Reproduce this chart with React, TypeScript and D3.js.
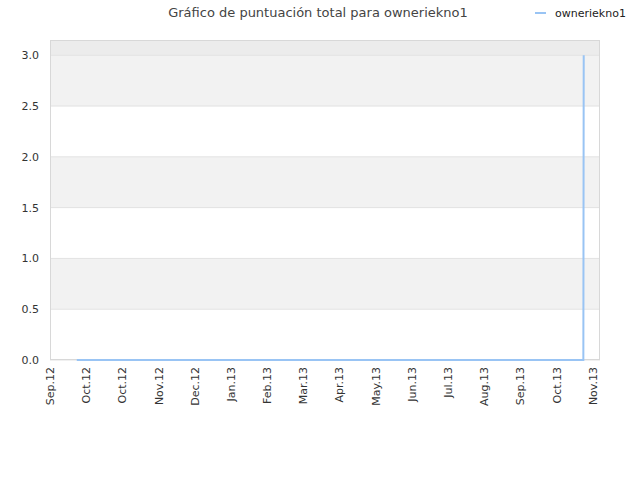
import React from 'react';
import * as d3 from 'd3';

// month tick labels along the x axis (index = position on axis)
const monthLabels = [
  'Sep.12', 'Oct.12', 'Oct.12', 'Nov.12', 'Dec.12', 'Jan.13', 'Feb.13', 'Mar.13',
  'Apr.13', 'May.13', 'Jun.13', 'Jul.13', 'Aug.13', 'Sep.13', 'Oct.13', 'Nov.13',
];

// series: positions in axis-month units, total score
const seriesPos = [0.74, 14.74, 14.75];
const seriesVal = [0, 0, 3];

const yTicks = [0, 0.5, 1, 1.5, 2, 2.5, 3];

const seriesName = 'owneriekno1';
const title = 'Gráfico de puntuación total para owneriekno1';

const W = 640;
const H = 480;
const margin = { top: 40, right: 40, bottom: 120, left: 50 };

const App: React.FC = () => {
  const x = d3.scaleLinear().domain([0, 15.2]).range([margin.left, W - margin.right]);
  const y = d3.scaleLinear().domain([0, 3.15]).range([H - margin.bottom, margin.top]);

  const pts = seriesPos.map((p, i) => ({ p, v: seriesVal[i] }));
  const line = d3.line<{ p: number; v: number }>()
    .x(d => x(d.p))
    .y(d => y(d.v));

  const font = 'DejaVu Sans, sans-serif';
  const plotTop = margin.top;
  const plotBottom = H - margin.bottom;

  return (
    <svg width={W} height={H} style={{ display: 'block', position: 'absolute', left: 0, top: 0 }}>
      <rect x={0} y={0} width={W} height={H} fill="#fff" />
      <text x={318} y={17} textAnchor="middle" fontFamily={font} fontSize={13} fill="#444">{title}</text>

      {/* legend */}
      <line x1={535} x2={546} y1={13} y2={13} stroke="#99c4f4" strokeWidth={2} />
      <text x={555} y={17} fontFamily={font} fontSize={11} fill="#222">{seriesName}</text>

      {/* top strip above last tick */}
      <rect x={margin.left} y={plotTop} width={W - margin.right - margin.left}
        height={y(3) - plotTop} fill="#ececec" />
      {/* alternating bands */}
      {yTicks.slice(0, -1).map((t, i) => (
        <rect key={'b' + i} x={margin.left} y={y(t + 0.5)}
          width={W - margin.right - margin.left} height={y(t) - y(t + 0.5)}
          fill={i % 2 === 1 ? '#f2f2f2' : '#fff'} />
      ))}
      {yTicks.map(t => (
        <line key={'g' + t} x1={margin.left} x2={W - margin.right} y1={y(t)} y2={y(t)}
          stroke="#e2e2e2" strokeWidth={1} />
      ))}
      <rect x={margin.left + 0.5} y={plotTop + 0.5} width={W - margin.right - margin.left - 1}
        height={plotBottom - plotTop - 1} fill="none" stroke="#d8d8d8" strokeWidth={1} />

      {yTicks.map(t => (
        <text key={'yt' + t} x={39} y={y(t) + 4} textAnchor="end" fontFamily={font}
          fontSize={11} fill="#333">{t.toFixed(1)}</text>
      ))}

      {monthLabels.map((m, i) => (
        <text key={'xt' + i} transform={`translate(${x(i) + 4},${plotBottom + 7}) rotate(-90)`}
          textAnchor="end" fontFamily={font} fontSize={11} fill="#333">{m}</text>
      ))}

      <path d={line(pts) || ''} fill="none" stroke="#99c4f4" strokeWidth={2} />
    </svg>
  );
};

export default App;
